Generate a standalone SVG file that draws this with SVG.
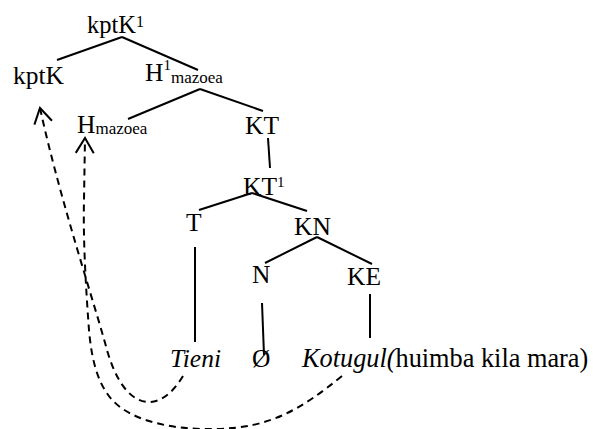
<svg xmlns="http://www.w3.org/2000/svg" width="593" height="429" viewBox="0 0 593 429">
<style>
text{font-family:"Liberation Serif","Times New Roman",serif;font-size:25.5px;fill:#000}
.sup{font-size:15px}
.sub{font-size:17px}
.it{font-style:italic}
.edge{stroke:#000;stroke-width:2;fill:none;stroke-linecap:butt}
.move{stroke:#000;stroke-width:2;fill:none;stroke-dasharray:7 5}
</style>
<defs>
<marker id="openArrow" viewBox="-17 -11 19 22" refX="0" refY="0" markerWidth="19" markerHeight="22" markerUnits="userSpaceOnUse" orient="auto" overflow="visible">
<path d="M-15,-9 L0,0 L-15,9" fill="none" stroke="#000" stroke-width="2"/>
</marker>
</defs>
<rect width="593" height="429" fill="#fff"/>
<g id="connectors">
<line class="edge" x1="122" y1="37" x2="57" y2="60"/>
<line class="edge" x1="122" y1="37" x2="198" y2="70"/>
<line class="edge" x1="200" y1="89" x2="128" y2="119"/>
<line class="edge" x1="200" y1="89" x2="263" y2="111"/>
<line class="edge" x1="268" y1="138" x2="270" y2="168"/>
<line class="edge" x1="252" y1="193" x2="199" y2="210"/>
<line class="edge" x1="252" y1="193" x2="307" y2="211"/>
<line class="edge" x1="317" y1="237" x2="265" y2="263"/>
<line class="edge" x1="317" y1="237" x2="372" y2="264"/>
<line class="edge" x1="195" y1="247" x2="195" y2="342"/>
<line class="edge" x1="262" y1="303" x2="264" y2="355"/>
<line class="edge" x1="370" y1="294" x2="370" y2="338"/>
<path class="move" marker-end="url(#openArrow)" d="M183,376 C171,396 158,403 147,402 C128,400 115,378 107,350 C95,305 60,200 40,108"/>
<path class="move" marker-end="url(#openArrow)" d="M342,376 C300,410 270,428 215,429 C175,430 140,422 120,407 C100,392 92,365 89,330 C86,290 83,240 84,200 L85,138"/>
</g>
<g id="node-kptK1"><text x="87" y="33" style="font-size:24.5px">kptK<tspan dy="-6" style="font-size:16px">1</tspan></text></g>
<g id="node-kptK"><text x="13" y="84">kptK</text></g>
<g id="node-H1mazoea"><text x="145" y="81">H<tspan class="sup" dy="-11">1</tspan><tspan class="sub" dy="13">mazoea</tspan></text></g>
<g id="node-Hmazoea"><text x="77" y="133">H<tspan class="sub" dy="1">mazoea</tspan></text></g>
<g id="node-KT"><text x="245" y="134">KT</text></g>
<g id="node-KT1"><text x="243" y="195">KT<tspan class="sup" dy="-8">1</tspan></text></g>
<g id="node-T"><text x="186" y="231">T</text></g>
<g id="node-KN"><text x="294" y="235">KN</text></g>
<g id="node-N"><text x="252" y="283">N</text></g>
<g id="node-KE"><text x="347" y="285">KE</text></g>
<g id="node-Tieni"><text x="170" y="367" class="it">Tieni</text></g>
<g id="node-empty"><text x="252" y="367">Ø</text></g>
<g id="node-Kotugul"><text x="302" y="367" style="font-size:26.3px"><tspan class="it">Kotugul(</tspan>huimba kila mara)</text></g>
</svg>
